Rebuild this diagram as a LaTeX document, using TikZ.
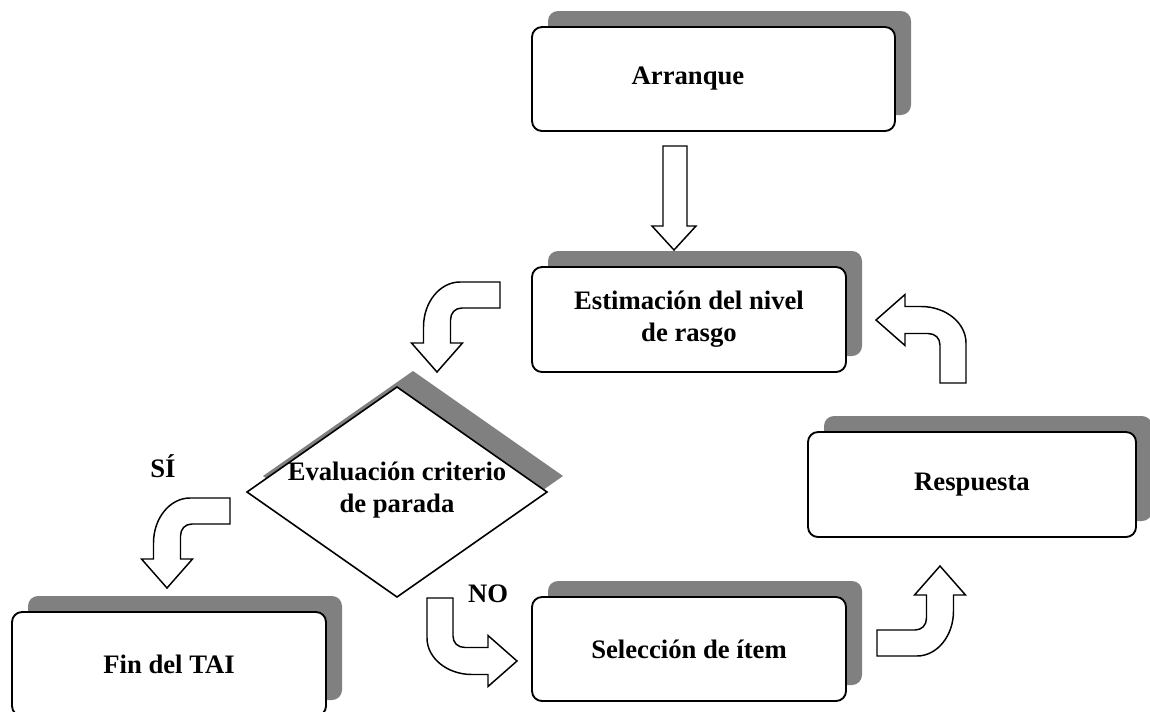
\documentclass[tikz,border=0pt]{standalone}
\usepackage{fontspec}
\setmainfont{Liberation Serif}
\usetikzlibrary{shadows}
\definecolor{shgray}{HTML}{808080}
\tikzset{
  txt/.style={font=\bfseries\fontsize{20}{24}\selectfont, inner sep=0pt, align=center},
  box/.style={draw, line width=1.4pt, rounded corners=7.5pt, fill=white, inner sep=0pt,
    txt, drop shadow={shadow xshift=12pt, shadow yshift=12pt, fill=shgray, opacity=1}},
  blockarrow/.style={draw, line width=1.1pt, fill=white, line join=miter},
  bentarrow/.pic={
    \draw[blockarrow] (0,0) -- (25.5,-29) -- (13.5,-29) -- (13.5,-52)
      .. controls (13.5,-59) and (18,-64) .. (25,-64) -- (63,-64) -- (63,-90) -- (23,-90)
      .. controls (3,-90) and (-13.5,-70) .. (-13.5,-45) -- (-13.5,-29) -- (-25.5,-29) -- cycle;
  }
}
\begin{document}
\begin{tikzpicture}[x=0.75pt,y=-0.75pt]
\useasboundingbox (0,0) rectangle (1150,711);

% boxes
\node[box, minimum width=272.25pt, minimum height=78pt] (arr) at (713.5,79) {};
\node[txt] (arrtxt) at (688,79) {Arranque};
\node[box, minimum width=235.5pt, minimum height=78.75pt] (est) at (689,319.5) {Estimación del nivel\\de rasgo};
\node[box, minimum width=246pt, minimum height=78.75pt] (resp) at (972,484.5) {Respuesta};
\node[box, minimum width=235.5pt, minimum height=78pt] (sel) at (689,649) {Selección de ítem};
\node[box, minimum width=235.5pt, minimum height=78pt] (fin) at (169,664) {Fin del TAI};

% decision diamond
\coordinate (dl) at (247,492);
\coordinate (dt) at (397,387);
\coordinate (dr) at (547,492);
\coordinate (db) at (397,597);
\draw[line width=1.2pt, fill=white, line join=miter,
  drop shadow={shadow xshift=12pt, shadow yshift=12pt, fill=shgray, opacity=1}]
  (dl) -- (dt) -- (dr) -- (db) -- cycle;
\node[txt] (eval) at (397,490) {Evaluación criterio\\de parada};

% straight block arrow
\draw[blockarrow] (663,146) -- (687,146) -- (687,226) -- (696,226) -- (674,250)
  -- (652,226) -- (663,226) -- cycle;

% bent block arrows
\pic at (437,372) {bentarrow};
\pic at (167,588) {bentarrow};
\pic[rotate=-90] at (876,320) {bentarrow};
\pic[rotate=90] at (517,661) {bentarrow};
\pic[rotate=180] at (940,566) {bentarrow};

% labels
\node[txt] (si) at (163,466) {SÍ};
\node[txt] (no) at (488,594) {NO};
\end{tikzpicture}
\end{document}
